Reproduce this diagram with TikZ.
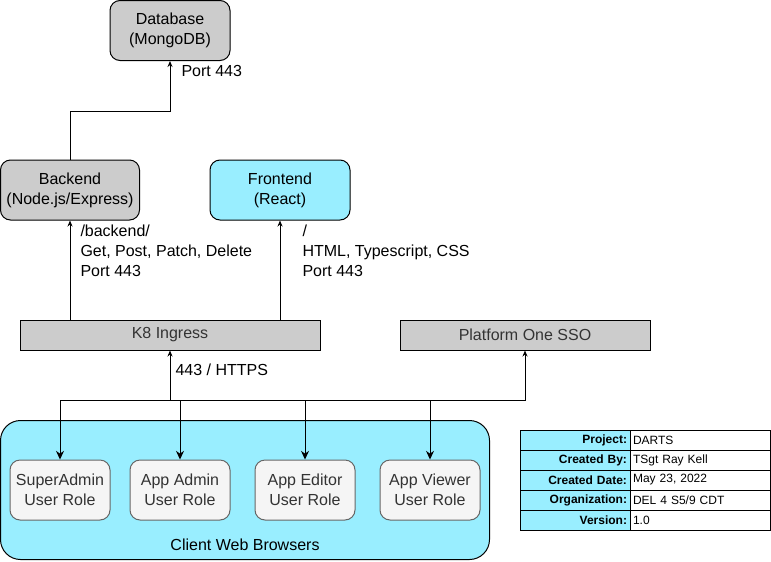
\documentclass[tikz,border=0pt]{standalone}
\usepackage{fontspec}
\setmainfont{Liberation Sans}
\usetikzlibrary{arrows.meta}
\definecolor{boxgray}{HTML}{CCCCCC}
\definecolor{webcyan}{HTML}{99EEFF}
\definecolor{rolefill}{HTML}{F5F5F5}
\definecolor{roleline}{HTML}{666666}
\definecolor{roletext}{HTML}{333333}

\begin{document}
\begin{tikzpicture}[x=0.75pt,y=-0.75pt,line width=0.75pt,
  every node/.style={font=\fontsize{12}{15}\selectfont},
  svcbox/.style={draw,rounded corners=7.5pt,align=center,inner sep=0pt,minimum height=45pt},
  barbox/.style={draw,fill=boxgray,text=roletext,inner sep=0pt,minimum height=22.5pt},
  rolebox/.style={draw=roleline,fill=rolefill,text=roletext,rounded corners=7.5pt,align=center,inner sep=0pt,minimum width=75pt,minimum height=45pt},
  lbl/.style={anchor=west,inner sep=0pt,align=left},
  arr/.style={-{Stealth[length=4.5pt,width=3.75pt]}},
  bigarr/.style={-{Stealth[length=6.5pt,width=6pt]}},
  keycell/.style={draw,fill=webcyan,inner xsep=2.25pt,inner ysep=0pt,text width=78pt,minimum height=15pt,align=right,font=\bfseries\fontsize{9}{11}\selectfont},
  valcell/.style={draw,fill=white,inner xsep=2.25pt,inner ysep=0pt,text width=100.5pt,minimum height=15pt,align=left,font=\fontsize{9}{11}\selectfont}]
\useasboundingbox (0,0) rectangle (771,561);

% services
\node (db) at (170,30.5) [svcbox,fill=boxgray,minimum width=90pt] {Database\\(MongoDB)};
\node (back) at (70,190) [svcbox,fill=boxgray,minimum width=104.25pt] {Backend\\(Node.js/Express)};
\node (front) at (280,190) [svcbox,fill=webcyan,minimum width=105pt] {Frontend\\(React)};
\node (ingress) at (170,335) [barbox,minimum width=225pt] {K8 Ingress};
\node (sso) at (525,335) [barbox,minimum width=187.5pt] {Platform One SSO};

% client browsers
\node (browsers) at (245,490) [draw,fill=webcyan,rounded corners=15pt,minimum width=366.75pt,minimum height=104.25pt] {};
\node (browserslbl) at (245,545) {Client Web Browsers};
\node (sa) at (60,490) [rolebox] {SuperAdmin\\User Role};
\node (aa) at (180,490) [rolebox] {App Admin\\User Role};
\node (ae) at (305,490) [rolebox] {App Editor\\User Role};
\node (av) at (430,490) [rolebox] {App Viewer\\User Role};

% connectors
\draw[arr] (back.north) -- ++(0,-48) -| (db.south);
\draw[arr] (ingress.north -| back) -- (back.south);
\draw[arr] (ingress.north -| front) -- (front.south);
\coordinate (hub) at (170,400);
\draw[arr] (hub) -- (ingress.south);
\draw[arr] (hub) -| (sso.south);
\foreach \r in {sa,aa,ae,av}
  \draw[bigarr] (hub) -| (\r.north);

% labels
\node (dbport) at (181,71) [lbl] {Port 443};
\node (backlbl) at (80,251) [lbl] {/backend/\\Get, Post, Patch, Delete\\Port 443};
\node (frontlbl) at (302,251) [lbl] {/\\HTML, Typescript, CSS\\Port 443};
\node (httpslbl) at (175,370) [lbl] {443 / HTTPS};

% info table
\foreach \key/\val [count=\i, evaluate=\i as \y using 420+20*\i] in {Project:/DARTS, Created By:/TSgt Ray Kell, Created Date:/{May 23, 2022}, Organization:/{DEL 4 S5/9 CDT}, Version:/1.0}{
  \node (key\i) at (575,\y) [keycell] {\key};
  \node (val\i) at (700,\y) [valcell] {\val};
}
\end{tikzpicture}
\end{document}
